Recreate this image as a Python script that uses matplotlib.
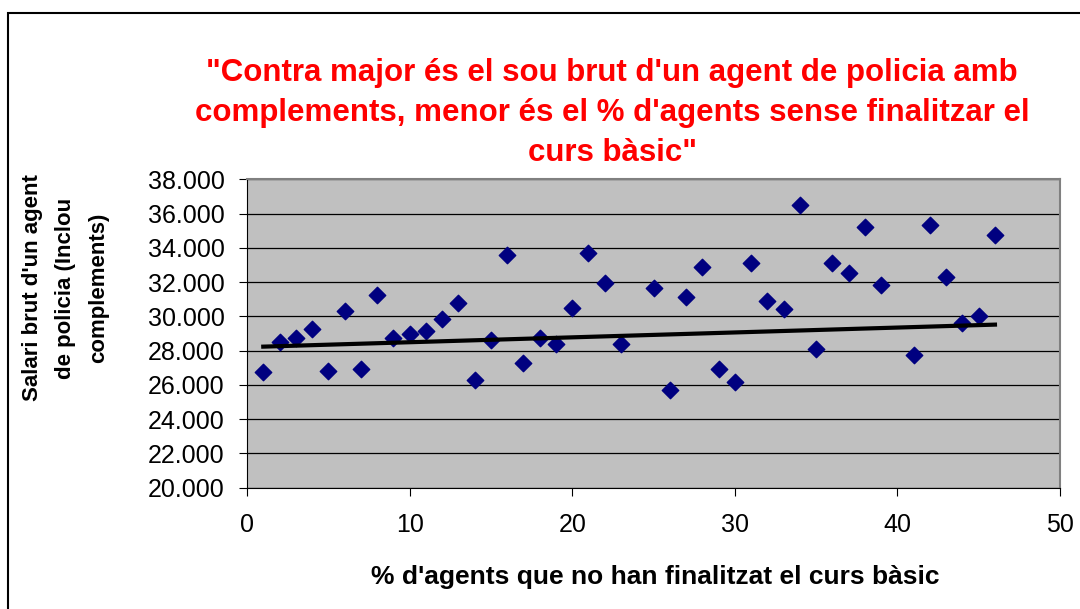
import numpy as np
import matplotlib
matplotlib.use("Agg")
import matplotlib.pyplot as plt
from matplotlib.patches import Rectangle

plt.rcParams["font.family"] = ["Liberation Sans", "DejaVu Sans"]

# % d'agents sense finalitzar el curs bàsic
pct = [1, 2, 3, 4, 5, 6, 7, 8, 9, 10, 11, 12, 13, 14, 15, 16, 17, 18, 19, 20,
       21, 22, 23, 25, 26, 27, 28, 29, 30, 31, 32, 33, 34, 35, 36, 37, 38, 39,
       41, 42, 43, 44, 45, 46]
# salari brut (euros)
salari = [26735, 28486, 28720, 29284, 26833, 30335, 26949, 31249, 28720, 28953,
          29167, 29868, 30802, 26268, 28603, 33603, 27300, 28720, 28370, 30471,
          33720, 31969, 28370, 31638, 25685, 31152, 32903, 26949, 26152, 33136,
          30918, 30451, 36521, 28117, 33136, 32553, 35218, 31852, 27767, 35354,
          32319, 29634, 30004, 34770]

# línia de tendència tal com surt al gràfic
trend_x = [1, 46]
trend_y = [28233, 29518]

x_ticks = [0, 10, 20, 30, 40, 50]
y_ticks = list(range(20000, 38001, 2000))
y_labels = ["{:,}".format(v).replace(",", ".") for v in y_ticks]

fig = plt.figure(figsize=(10.8, 6.09), dpi=100)
fig.patches.append(Rectangle((8 / 1080, -0.1), 1.2, (609 - 13) / 609 + 0.1,
                             transform=fig.transFigure, fill=False,
                             edgecolor="black", lw=1.5))

ax = fig.add_axes([247 / 1080, 121.3 / 609, 813 / 1080, 308.4 / 609])
ax.set_facecolor("#C0C0C0")
ax.scatter(pct, salari, marker="D", s=70, color="#000080", zorder=3)
ax.plot(trend_x, trend_y, color="black", lw=3, zorder=4)

ax.set_xlim(0, 50)
ax.set_ylim(20000, 38000)
ax.set_xticks(x_ticks)
ax.set_yticks(y_ticks)
ax.set_yticklabels(y_labels)
ax.grid(axis="y", color="black", lw=0.9)
ax.set_axisbelow(True)
ax.tick_params(axis="both", labelsize=18, direction="out", length=6,
               color="black")
ax.tick_params(axis="x", pad=12)
ax.tick_params(axis="y", pad=10)
for s in ["top", "right"]:
    ax.spines[s].set_color("#808080")
    ax.spines[s].set_linewidth(1.5)
for s in ["left", "bottom"]:
    ax.spines[s].set_color("black")

fig.text(612 / 1080, 1 - 113 / 609,
         "\"Contra major és el sou brut d'un agent de policia amb\n"
         "complements, menor és el % d'agents sense finalitzar el\n"
         "curs bàsic\"",
         ha="center", va="center", color="red", fontsize=22.5,
         fontweight="bold", linespacing=1.42)

fig.text(655 / 1080, 1 - 577 / 609,
         "% d'agents que no han finalitzat el curs bàsic",
         ha="center", va="center", fontsize=19, fontweight="bold")

fig.text(66 / 1080, 1 - 288 / 609,
         "Salari brut d'un agent\nde policia (Inclou\ncomplements)",
         ha="center", va="center", rotation=90, fontsize=16,
         fontweight="bold", linespacing=1.75)

fig.savefig("out.png", dpi=100)
